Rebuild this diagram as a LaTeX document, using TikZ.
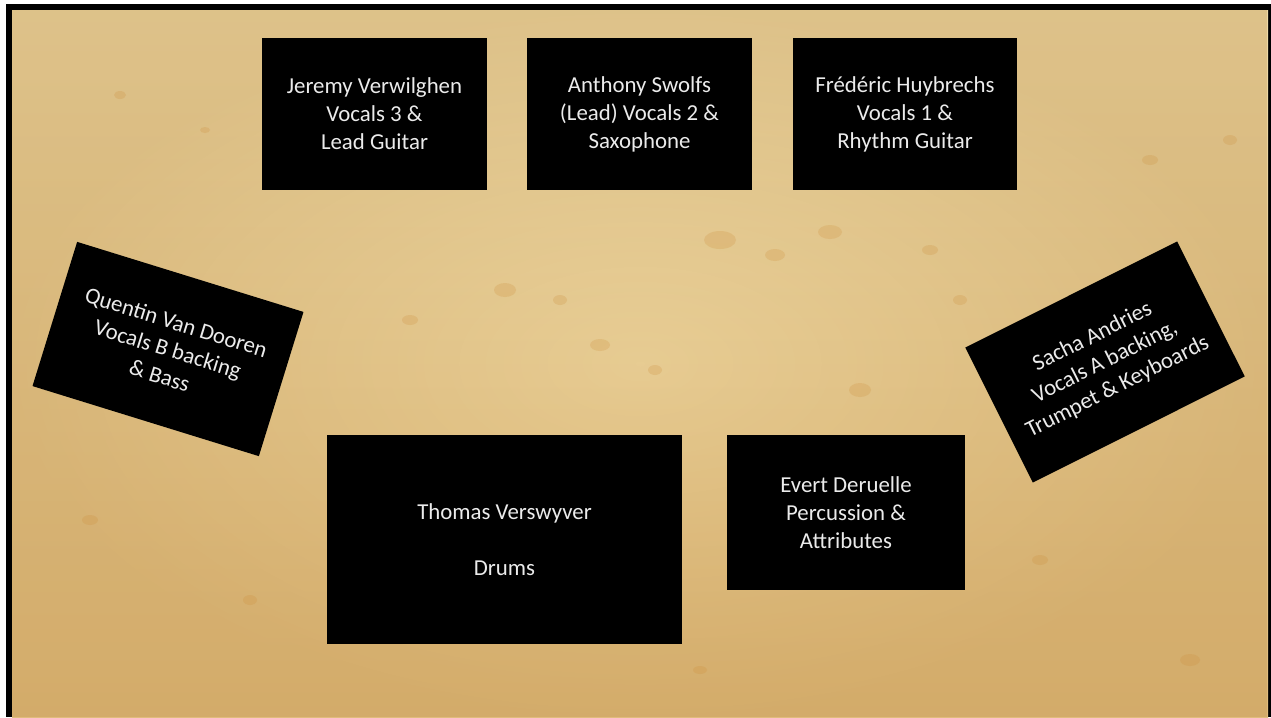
\documentclass[tikz,border=0pt]{standalone}
\usepackage{fontspec}
\setmainfont{Carlito}
\usepackage{tikz}
\usepackage{color}
\usetikzlibrary{fadings}

\definecolor{parchtop}{RGB}{238,219,168}
\definecolor{parchmid}{RGB}{240,223,174}
\definecolor{parchbot}{RGB}{224,188,124}
\definecolor{parchedge}{RGB}{180,130,60}
\definecolor{stainbrown}{RGB}{205,140,55}
\tikzfading[name=vignette, inner color=transparent!100, outer color=transparent!72]

\begin{document}
\begin{tikzpicture}[%
      x=0.02cm, y=-0.02cm,
      player/.style={fill=black, text=white!92!black, align=center, inner sep=0pt,
        font=\fontsize{13}{15.9}\selectfont},
      topbox/.style={player, minimum width=4.5cm, minimum height=3.04cm},
      sidebox/.style={player, minimum width=4.74cm, minimum height=3.02cm},
      stain/.style={fill=stainbrown, opacity=0.22},
      ]
      \useasboundingbox (0,0) rectangle (1271,717);
      \fill [white] (0,0) rectangle (1271,717);

      % frame and parchment
      \fill [black] (6,4) rectangle (1271,717);
      \shade [top color=parchtop, middle color=parchmid, bottom color=parchbot]
        (12,10) rectangle (1268,717);
      \fill [parchedge, path fading=vignette] (12,10) rectangle (1268,717);

      % stains
      \fill [stain] (120,95) ellipse (6 and 4);
      \fill [stain] (205,130) ellipse (5 and 3);
      \fill [stain] (720,240) ellipse (16 and 9);
      \fill [stain] (775,255) ellipse (10 and 6);
      \fill [stain] (830,232) ellipse (12 and 7);
      \fill [stain] (930,250) ellipse (8 and 5);
      \fill [stain] (505,290) ellipse (11 and 7);
      \fill [stain] (560,300) ellipse (7 and 5);
      \fill [stain] (410,320) ellipse (8 and 5);
      \fill [stain] (600,345) ellipse (10 and 6);
      \fill [stain] (655,370) ellipse (7 and 5);
      \fill [stain] (860,390) ellipse (11 and 7);
      \fill [stain] (960,300) ellipse (7 and 5);
      \fill [stain] (1150,160) ellipse (8 and 5);
      \fill [stain] (1230,140) ellipse (7 and 5);
      \fill [stain] (90,520) ellipse (8 and 5);
      \fill [stain] (250,600) ellipse (7 and 5);
      \fill [stain] (1040,560) ellipse (8 and 5);
      \fill [stain] (1190,660) ellipse (10 and 6);
      \fill [stain] (700,670) ellipse (7 and 4);

      % front line
      \node [topbox] (jeremy) at (374.5,114)
        {Jeremy Verwilghen\\Vocals 3 \&\\Lead Guitar};
      \node [topbox] (anthony) at (639.5,114)
        {Anthony Swolfs\\(Lead) Vocals 2 \&\\Saxophone};
      \node [topbox] (frederic) at (905,114)
        {Frédéric Huybrechs\\Vocals 1 \&\\Rhythm Guitar};

      % sides
      \node [sidebox, rotate=-17.2] (quentin) at (168,349)
        {Quentin Van Dooren\\Vocals B backing\\\& Bass};
      \node [sidebox, rotate=26.6] (sacha) at (1105,362)
        {Sacha Andries\\Vocals A backing,\\Trumpet \& Keyboards};

      % back line
      \node [player, minimum width=7.1cm, minimum height=4.18cm] (thomas) at (504.5,539.5)
        {Thomas Verswyver\\\mbox{}\\Drums};
      \node [player, minimum width=4.76cm, minimum height=3.1cm] (evert) at (846,512.5)
        {Evert Deruelle\\Percussion \&\\Attributes};
\end{tikzpicture}
\end{document}
